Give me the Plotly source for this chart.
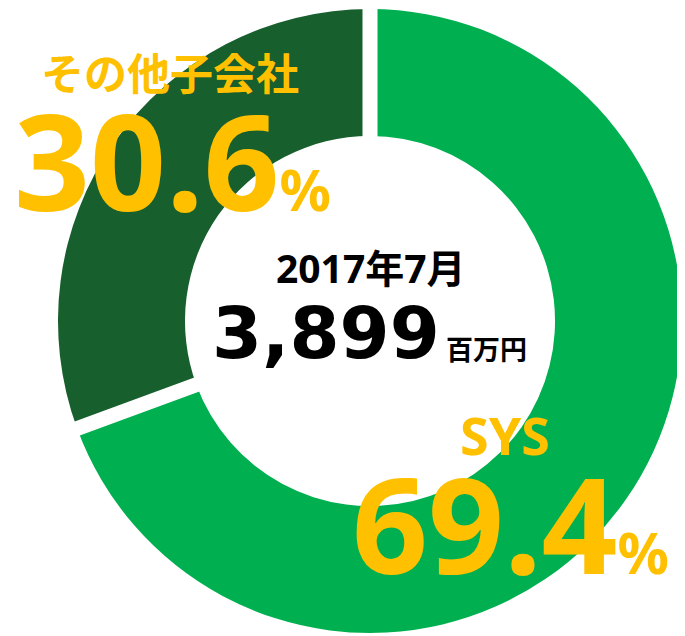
import math
import plotly.graph_objects as go

labels = ["SYS", "その他子会社"]
values = [69.4, 30.6]
colors = ["#00B050", "#185F2E"]
center_title = "2017年7月"
center_total = "3,899"
center_unit = "百万円"

# figure is drawn inside the page's 8px body margin
W, H = 677, 628
GOLD = "#FFC000"
JP = "Noto Sans, Noto Sans CJK JP, sans-serif"
VB = "DejaVu Sans, Noto Sans CJK JP, sans-serif"

CX, CY, R = 362, 313, 312      # pie centre / radius in figure pixels (from top-left)
HOLE = 0.593

fig = go.Figure(go.Pie(
    labels=labels, values=values, sort=False, direction="clockwise", rotation=0,
    hole=HOLE, marker=dict(colors=colors, line=dict(width=0)),
    textinfo="none", hoverinfo="skip", showlegend=False,
    domain=dict(x=[(CX - R) / W, (CX + R) / W], y=[1 - (CY + R) / H, 1 - (CY - R) / H]),
))

# white separators between slices, at the slice boundaries derived from the values
shapes = []
total = sum(values)
cum = 0.0
for v in values:
    th = 2 * math.pi * cum / total
    r0, r1 = R * HOLE - 10, R + 10
    shapes.append(dict(type="line", xref="paper", yref="paper",
                       x0=(CX + r0 * math.sin(th)) / W, y0=1 - (CY - r0 * math.cos(th)) / H,
                       x1=(CX + r1 * math.sin(th)) / W, y1=1 - (CY - r1 * math.cos(th)) / H,
                       line=dict(color="white", width=15), layer="above"))
    cum += v

def px(x):
    return x / W

def py(y):
    return 1 - y / H

ann = []
def add(text, x, y, size, color, family, xanchor="center"):
    ann.append(dict(text=f"<b>{text}</b>", x=px(x), y=py(y),
                    xref="paper", yref="paper", xanchor=xanchor, yanchor="middle",
                    showarrow=False, font=dict(size=size, color=color, family=family)))

pct = "<span style='font-size:57px'>%</span>"
add(labels[1], 162, 66, 43, GOLD, JP)
add(f"{values[1]:.1f}{pct}", 164, 152, 133, GOLD, JP)
add(labels[0], 497, 426, 52, GOLD, JP)
add(f"{values[0]:.1f}{pct}", 502, 514, 133, GOLD, JP)
add(center_title, 363, 259, 39, "black", JP)
add(center_total, 202, 325, 72, "black", VB, "left")
add(center_unit, 478, 341, 27, "black", JP)

fig.update_layout(width=W, height=H, margin=dict(l=0, r=0, t=0, b=0),
                  paper_bgcolor="white", plot_bgcolor="white",
                  annotations=ann, shapes=shapes)
fig.write_html("out.html")
